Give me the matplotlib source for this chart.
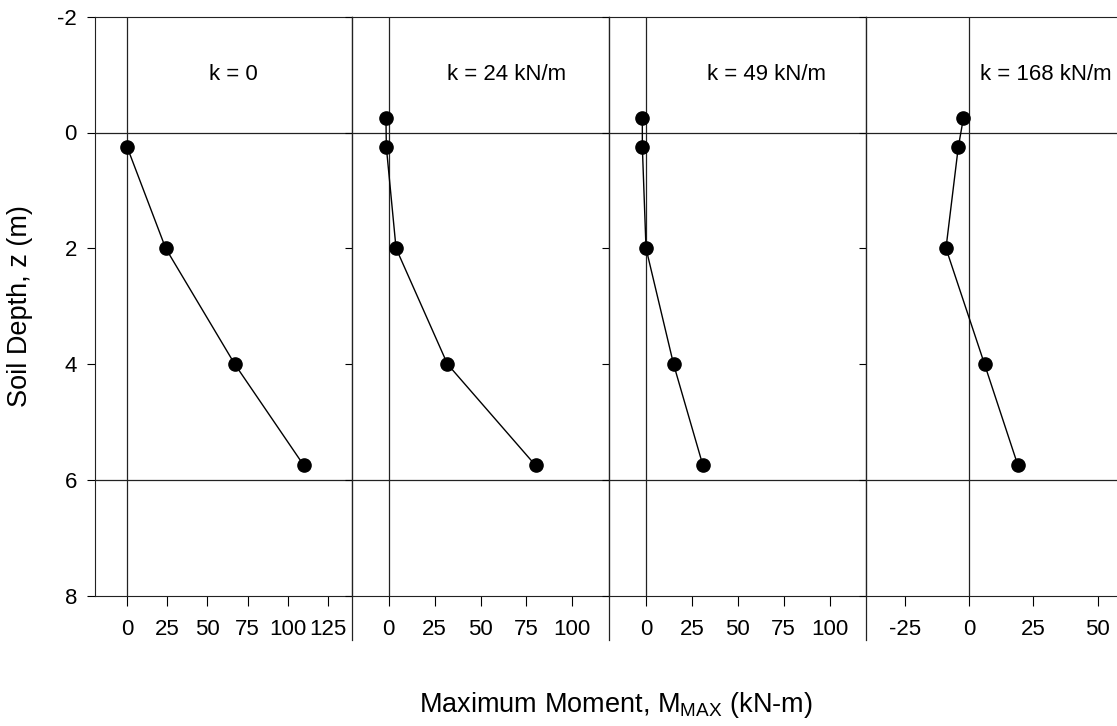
"""
Maximum moment profiles with depth for four spring stiffnesses k.
Four side-by-side panels sharing the depth axis, SigmaPlot-style frame.
"""
import matplotlib
matplotlib.use("Agg")
import matplotlib.pyplot as plt

# --- data -----------------------------------------------------------------------
LABELS = ["k = 0", "k = 24 kN/m", "k = 49 kN/m", "k = 168 kN/m"]

depth_k0 = [0.25, 2.0, 4.0, 5.75]
moment_k0 = [0.0, 24.0, 67.0, 110.0]

depth_k24 = [-0.25, 0.25, 2.0, 4.0, 5.75]
moment_k24 = [-1.5, -1.3, 4.0, 32.0, 80.0]

depth_k49 = [-0.25, 0.25, 2.0, 4.0, 5.75]
moment_k49 = [-2.0, -2.0, 0.0, 15.0, 31.0]

depth_k168 = [-0.25, 0.25, 2.0, 4.0, 5.75]
moment_k168 = [-2.2, -4.2, -9.0, 6.0, 19.0]

XLIMS = [(-20, 140), (-20, 120), (-20, 120), (-40, 60)]
XTICKS = [[0, 25, 50, 75, 100, 125], [0, 25, 50, 75, 100],
          [0, 25, 50, 75, 100], [-25, 0, 25, 50]]
YTICKS = [-2, 0, 2, 4, 6, 8]
LABEL_X = [0.54, 0.60, 0.61, 0.70]   # axes-fraction position of panel labels

SERIES = [(moment_k0, depth_k0), (moment_k24, depth_k24),
          (moment_k49, depth_k49), (moment_k168, depth_k168)]

plt.rcParams.update({
    "font.family": ["Liberation Sans", "DejaVu Sans"],
    "font.size": 16,
    "axes.linewidth": 0.8,
    "axes.unicode_minus": False,
})

W, H = 1117, 726
fig = plt.figure(figsize=(W / 100, H / 100), dpi=100)

lefts = [95, 352, 609.3, 866.3]
pw = 257.0
bottom, top = 595.7, 16.7

for i, ((mx, dz), lab) in enumerate(zip(SERIES, LABELS)):
    ax = fig.add_axes([lefts[i] / W, 1 - bottom / H, pw / W, (bottom - top) / H])
    ax.set_xlim(*XLIMS[i])
    ax.set_ylim(8, -2)
    ax.set_xticks(XTICKS[i])
    ax.set_yticks(YTICKS)
    ax.tick_params(axis="x", direction="out", length=7, width=0.8, pad=10,
                   labelsize=16)
    ax.tick_params(axis="y", direction="out", length=6 if i == 0 else 5,
                   width=0.8, pad=7, labelsize=16, labelleft=(i == 0))
    for s in ax.spines.values():
        s.set_color("#222222")

    # reference lines: ground surface, pile tip, zero moment
    ax.axhline(0, color="#222222", lw=0.9, zorder=1)
    ax.axhline(6, color="#222222", lw=0.9, zorder=1)
    ax.axvline(0, color="#222222", lw=0.9, zorder=1)

    ax.plot(mx, dz, color="black", lw=1.0, marker="o", ms=9.5,
            mfc="black", mec="black", zorder=3)
    ax.text(LABEL_X[i], -1.0, lab, transform=ax.get_yaxis_transform(),
            ha="center", va="center", fontsize=16)

    # panel divider runs down through the tick-label band
    if i > 0:
        ax.plot([0, 0], [-0.077, 1], transform=ax.transAxes, color="#222222",
                lw=0.9, clip_on=False, zorder=4)

fig.text(20 / W, 1 - 306 / H, "Soil Depth, z (m)", rotation=90,
         ha="center", va="center", fontsize=19.5)
fig.text(616 / W, 1 - 705 / H, r"Maximum Moment, M$_{\mathregular{MAX}}$ (kN-m)",
         ha="center", va="center", fontsize=19.5)

fig.savefig("out.png", dpi=100)
